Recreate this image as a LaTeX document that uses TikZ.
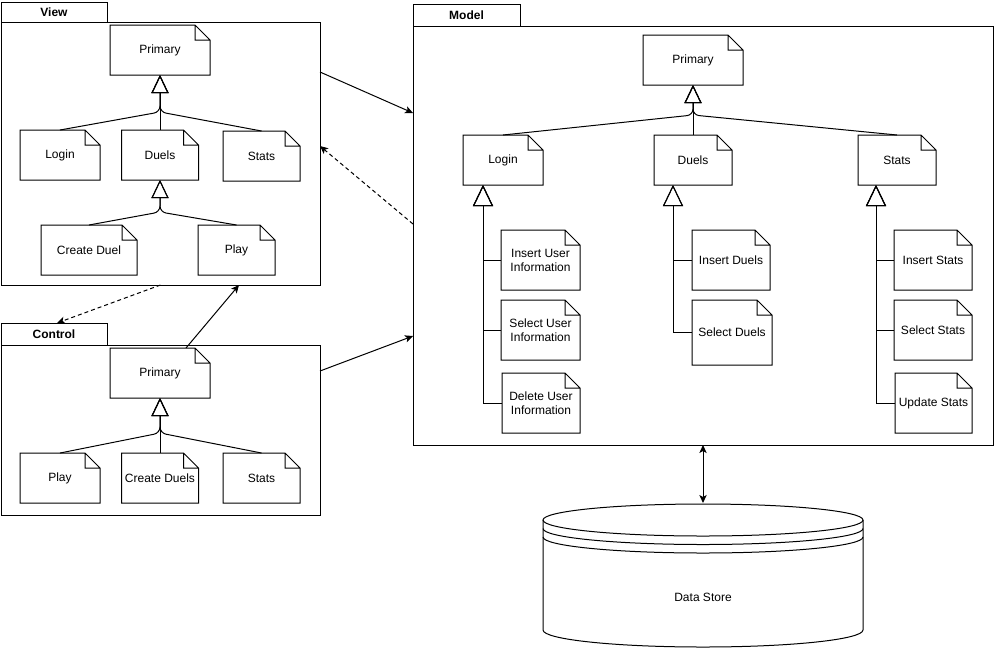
\documentclass[tikz,border=0pt]{standalone}
\usepackage{fontspec}
\setmainfont{Liberation Sans}
\usetikzlibrary{arrows.meta,calc}

% a note shape: rectangle with a folded top-right corner
\makeatletter
\pgfdeclareshape{dogear}{
  \inheritsavedanchors[from=rectangle]
  \inheritanchorborder[from=rectangle]
  \inheritanchor[from=rectangle]{center}
  \inheritanchor[from=rectangle]{north}
  \inheritanchor[from=rectangle]{south}
  \inheritanchor[from=rectangle]{east}
  \inheritanchor[from=rectangle]{west}
  \inheritanchor[from=rectangle]{north east}
  \inheritanchor[from=rectangle]{north west}
  \inheritanchor[from=rectangle]{south east}
  \inheritanchor[from=rectangle]{south west}
  \backgroundpath{%
    \southwest \pgf@xa=\pgf@x \pgf@ya=\pgf@y
    \northeast \pgf@xb=\pgf@x \pgf@yb=\pgf@y
    \pgf@xc=\pgf@xb \advance\pgf@xc by -11.25pt
    \pgf@yc=\pgf@yb \advance\pgf@yc by -11.25pt
    \pgfpathmoveto{\pgfqpoint{\pgf@xa}{\pgf@ya}}%
    \pgfpathlineto{\pgfqpoint{\pgf@xa}{\pgf@yb}}%
    \pgfpathlineto{\pgfqpoint{\pgf@xc}{\pgf@yb}}%
    \pgfpathlineto{\pgfqpoint{\pgf@xb}{\pgf@yc}}%
    \pgfpathlineto{\pgfqpoint{\pgf@xb}{\pgf@ya}}%
    \pgfpathclose
    \pgfpathmoveto{\pgfqpoint{\pgf@xc}{\pgf@yb}}%
    \pgfpathlineto{\pgfqpoint{\pgf@xc}{\pgf@yc}}%
    \pgfpathlineto{\pgfqpoint{\pgf@xb}{\pgf@yc}}%
  }
}
\makeatother

\tikzset{
  every node/.style={font=\fontsize{9}{10.5}\selectfont},
  notebox/.style 2 args={dogear, draw, inner sep=0pt, outer sep=0pt, align=center,
    minimum width={#1*0.75pt}, minimum height={#2*0.75pt}},
  pkgtab/.style 2 args={rectangle, draw, inner sep=0pt, outer sep=0pt,
    font=\fontsize{9}{10.5}\selectfont\bfseries,
    minimum width={#1*0.75pt}, minimum height={#2*0.75pt}},
  pkgbody/.style 2 args={rectangle, draw, inner sep=0pt, outer sep=0pt,
    minimum width={#1*0.75pt}, minimum height={#2*0.75pt}},
  gen/.style={rounded corners=4.5pt, -{Triangle[open, length=13.5pt, width=12.75pt]}},
  subgen/.style={-{Triangle[open, length=15.75pt, width=15pt]}},
  dep/.style={-{Stealth[length=6pt, width=5.5pt, inset=1.5pt]}},
  weakdep/.style={dep, dash pattern=on 3pt off 2.25pt},
  store/.style={{Stealth[length=6pt, width=5.5pt, inset=1.5pt]}-{Stealth[length=6pt, width=5.5pt, inset=1.5pt]}},
}

\begin{document}
\begin{tikzpicture}[x=0.75pt, y=-0.75pt, line width=0.75pt, line join=miter]
\useasboundingbox (0,0) rectangle (995,651);

% ---------- View package ----------
\node[pkgtab={106}{20}]   (vTab)  at (54,12) {View};
\node[pkgbody={319}{263}] (vBody) at (160.5,153.5) {};
\node[notebox={100}{50}] (vPrim)   at (160,50)    {Primary};
\node[notebox={80}{50}]  (vLogin)  at (60,155)    {Login};
\node[notebox={77}{50}]  (vDuels)  at (160,155)   {Duels};
\node[notebox={77}{50}]  (vStats)  at (261.5,156) {Stats};
\node[notebox={96}{50}]  (vCreate) at (89,250)    {Create Duel};
\node[notebox={77}{50}]  (vPlay)   at (236.5,250) {Play};
\coordinate (vJ1) at (160,112);
\coordinate (vJ2) at (160,212);
\draw[gen] (vLogin.north) -- (vJ1) -- (vPrim.south);
\draw[gen] (vStats.north) -- (vJ1) -- (vPrim.south);
\draw[gen] (vDuels.north) -- (vPrim.south);
\draw[gen] (vCreate.north) -- (vJ2) -- (vDuels.south);
\draw[gen] (vPlay.north) -- (vJ2) -- (vDuels.south);

% ---------- Control package ----------
\node[pkgtab={106}{22}]   (cTab)  at (54,334) {Control};
\node[pkgbody={319}{170}] (cBody) at (160.5,430) {};
\node[notebox={100}{50}] (cPrim)   at (160,373)   {Primary};
\node[notebox={80}{50}]  (cPlay)   at (60,478)    {Play};
\node[notebox={77}{50}]  (cCreate) at (160,478)   {Create Duels};
\node[notebox={77}{50}]  (cStats)  at (261.5,478) {Stats};
\coordinate (cJ) at (160,433);
\draw[gen] (cPlay.north) -- (cJ) -- (cPrim.south);
\draw[gen] (cStats.north) -- (cJ) -- (cPrim.south);
\draw[gen] (cCreate.north) -- (cPrim.south);

% ---------- Model package ----------
\node[pkgtab={107}{22}]   (mTab)  at (466.5,15) {Model};
\node[pkgbody={580}{419}] (mBody) at (703,235.5) {};
\node[notebox={100}{50}] (mPrim)  at (693,60)  {Primary};
\node[notebox={80}{50}]  (mLogin) at (503,160) {Login};
\node[notebox={78}{50}]  (mDuels) at (693,160) {Duels};
\node[notebox={78}{50}]  (mStats) at (897,160) {Stats};
\coordinate (mJ) at (693,115);
\draw[gen] (mLogin.north) -- (mJ) -- (mPrim.south);
\draw[gen] (mStats.north) -- (mJ) -- (mPrim.south);
\draw[gen] (mDuels.north) -- (mPrim.south);

\node[notebox={79}{60}] (mLogIns) at (540.5,260) {Insert User\\Information};
\node[notebox={79}{60}] (mLogSel) at (540.5,330) {Select User\\Information};
\node[notebox={78}{60}] (mLogDel) at (541,403)   {Delete User\\Information};
\node[notebox={78}{60}] (mDuIns)  at (731,260)   {Insert Duels};
\node[notebox={80}{65}] (mDuSel)  at (732,332.5) {Select Duels};
\node[notebox={78}{60}] (mStIns)  at (933,260)   {Insert Stats};
\node[notebox={78}{60}] (mStSel)  at (933,330)   {Select Stats};
\node[notebox={77}{60}] (mStUpd)  at (933.5,403) {Update Stats};

\coordinate (mLx) at ($(mLogin.south)+(-20,0)$);
\coordinate (mDx) at ($(mDuels.south)+(-20,0)$);
\coordinate (mSx) at ($(mStats.south)+(-21,0)$);
\draw[subgen] (mLogIns.west) -| (mLx);
\draw[subgen] (mLogSel.west) -| (mLx);
\draw[subgen] (mLogDel.west) -| (mLx);
\draw[subgen] (mDuIns.west) -| (mDx);
\draw[subgen] (mDuSel.west) -| (mDx);
\draw[subgen] (mStIns.west) -| (mSx);
\draw[subgen] (mStSel.west) -| (mSx);
\draw[subgen] (mStUpd.west) -| (mSx);

% ---------- dependencies between packages ----------
\draw[dep] ($(vBody.north east)+(0,50)$) -- ($(mBody.north west)+(0,87)$);
\draw[weakdep] ($(mBody.north west)+(0,198)$) -- ($(vBody.north east)+(0,124)$);
\draw[dep] ($(cBody.north east)+(0,26)$) -- ($(mBody.north west)+(0,310)$);
\draw[weakdep] (vBody.south) -- ($(cTab.north)+(3,0)$);
\draw[dep] ($(cPrim.north east)+(-24,0)$) -- ($(vBody.south)+(78.5,0)$);

% ---------- data store ----------
\node[inner sep=0pt, outer sep=0pt, minimum width=240pt, minimum height=108pt] (ds) at (703,575) {};
\node (dsLabel) at (703,597) {Data Store};
\draw (ds.center |- 0,520) ellipse [x radius=120pt, y radius=12pt];
\draw ($(ds.west |- 0,528.5)$) arc [start angle=180, end angle=360, x radius=120pt, y radius=12pt];
\draw ($(ds.west |- 0,537)$) arc [start angle=180, end angle=360, x radius=120pt, y radius=12pt];
\draw (ds.west |- 0,520) -- (ds.west |- 0,630)
      arc [start angle=180, end angle=360, x radius=120pt, y radius=12.75pt]
      -- (ds.east |- 0,520);
\draw[store] (mBody.south) -- (ds.north);
\end{tikzpicture}
\end{document}
